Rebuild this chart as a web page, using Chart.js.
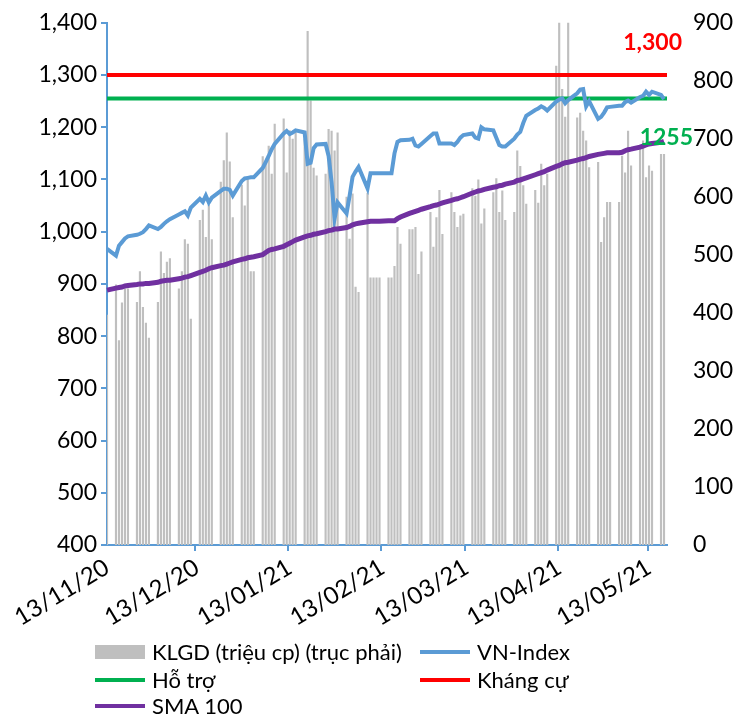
<!DOCTYPE html>
<html><head><meta charset="utf-8">
<script src="https://cdn.jsdelivr.net/npm/chart.js@4"></script>
<style>
html,body{margin:0;padding:0;background:#fff;}
#wrap{position:relative;width:745px;height:715px;overflow:hidden;}
#c{position:absolute;left:0;top:-9px;}
.lgt{position:absolute;font-family:Lato,sans-serif;font-size:22px;line-height:24px;color:#000;white-space:nowrap;}
.sw{position:absolute;}
</style></head><body>
<div id="wrap"><canvas id="c" width="745" height="724"></canvas><div id="legend"></div></div>
<script>
// ---- axis range (calendar days on the date axis) ----
const startDate = '2020-11-13';
const endDate = '2021-05-19';
const lastDataDate = '2021-05-18';

// ---- series, one value per weekday from 13/11/20 to 18/05/21 ----
const vnIndex = [
  967, 954, 973, 980, 987, 991, 994, 996, 999, 1005, 1012, 1005,
  1009, 1015, 1020, 1024, 1033, 1036, 1039, 1031, 1046, 1063, 1057, 1069, 1056, 1065, 1078, 1082, 1082, 1080, 1069, 1097, 1102, 1103, 1104,
  1104, 1122, 1133, 1145, 1158, 1168, 1188, 1193, 1187, 1190, 1194, 1190, 1130, 1132, 1160, 1167, 1168, 1145, 1095, 1025, 1056,
  1035, 1068, 1105, 1115, 1124, 1083, 1112, 1112, 1112, 1112, 1112, 1112, 1150, 1172, 1175, 1176, 1178, 1165, 1163, 1168,
  1183, 1188, 1188, 1169, 1169, 1169, 1166, 1172, 1180, 1185, 1188, 1180, 1178, 1200, 1196, 1194, 1180, 1166, 1163, 1163, 1178, 1186, 1191,
  1208, 1222, 1233, 1236, 1240, 1237, 1232, 1249, 1253, 1255, 1246, 1252, 1265, 1272, 1273, 1240, 1250, 1216, 1220, 1228, 1238, 1239,
  1241, 1241, 1248, 1251, 1247, 1258, 1260, 1268, 1262, 1268, 1262, 1254
];
const volume = [
  397, 449, 353, 418, 442, 442, 419, 472, 410, 383, 357, 419,
  506, 469, 488, 494, 442, 472, 527, 519, 390, 560, 578, 531, 586, 527, 626, 663, 711, 661, 565, 621, 585, 631, 472,
  472, 670, 661, 688, 640, 726, 735, 642, 715, 700, 717, 700, 886, 766, 650, 637, 640, 717, 714, 680, 711,
  600, 528, 606, 445, 436, 607, 461, 461, 461, 461, 461, 461, 481, 548, 519, 544, 544, 548, 467, 506,
  574, 514, 565, 612, 536, 608, 574, 548, 568, 571, 615, 602, 630, 554, 580, 608, 632, 574, 611, 560, 574, 680, 653,
  620, 588, 612, 590, 657, 620, 640, 826, 980, 786, 738, 960, 737, 745, 714, 697, 651, 660, 522, 565, 591, 591,
  591, 671, 642, 714, 654, 690, 697, 634, 654, 645, 674, 674
];
const sma100 = [
  888, 892, 893, 894, 896, 897, 899, 900, 900, 901, 901, 903,
  905, 906, 907, 907, 910, 911, 913, 914, 916, 922, 924, 926, 929, 931, 935, 936, 938, 940, 942, 947, 948, 950, 951,
  952, 956, 960, 964, 966, 967, 972, 975, 978, 981, 984, 990, 992, 993, 995, 996, 1000, 1002, 1003, 1005, 1005,
  1008, 1010, 1013, 1015, 1016, 1019, 1020, 1020, 1020, 1020, 1021, 1021, 1021, 1025, 1028, 1035, 1037, 1039, 1041, 1043,
  1048, 1050, 1051, 1053, 1055, 1060, 1062, 1063, 1065, 1067, 1074, 1076, 1078, 1079, 1081, 1085, 1086, 1088, 1089, 1091, 1095, 1098, 1099,
  1101, 1103, 1109, 1111, 1113, 1115, 1118, 1125, 1127, 1130, 1132, 1133, 1137, 1139, 1140, 1142, 1144, 1148, 1149, 1150, 1151, 1151,
  1151, 1152, 1155, 1157, 1158, 1162, 1164, 1166, 1168, 1169, 1171, 1173
];
const supportLevel = 1255;
const resistanceLevel = 1300;

// ---- axes ----
const leftAxis = { min: 400, max: 1400, step: 100 };
const rightAxis = { min: 0, max: 900, step: 100 };
const tickDayOfMonth = '13';

// ---- names / colours ----
const seriesNames = ['KLGD (triệu cp) (trục phải)', 'VN-Index', 'Hỗ trợ', 'Kháng cự', 'SMA 100'];
const seriesColors = ['#BFBFBF', '#5B9BD5', '#00B050', '#FF0000', '#7030A0'];

// ---- build calendar table ----
const pad = n => String(n).padStart(2, '0');
const days = [];
for (let d = new Date(startDate + 'T00:00:00Z'); d <= new Date(endDate + 'T00:00:00Z'); d.setUTCDate(d.getUTCDate() + 1)) days.push(new Date(d));
const labels = days.map(d => pad(d.getUTCDate()) + '/' + pad(d.getUTCMonth() + 1) + '/' + String(d.getUTCFullYear()).slice(2));
const lastData = new Date(lastDataDate + 'T00:00:00Z');
const idxVn = [], idxVol = [], idxSma = [];
let k = 0;
days.forEach(d => {
  const wd = d.getUTCDay();
  if (wd > 0 && wd < 6 && d <= lastData) {
    idxVn.push(vnIndex[k]); idxVol.push(volume[k]); idxSma.push(sma100[k]); k++;
  } else { idxVn.push(null); idxVol.push(null); idxSma.push(null); }
});
const supportData = labels.map(() => supportLevel);
const resistData = labels.map(() => resistanceLevel);
const isTickDay = i => labels[i] && labels[i].slice(0, 2) === tickDayOfMonth;

const levelLabels = {
  id: 'levelLabels',
  afterDatasetsDraw(chart) {
    const { ctx, chartArea, scales } = chart;
    ctx.save();
    ctx.font = 'bold 23px Lato';
    ctx.textAlign = 'right';
    ctx.textBaseline = 'middle';
    ctx.fillStyle = seriesColors[3];
    ctx.fillText(resistanceLevel.toLocaleString('en-US'), chartArea.right + 15, scales.y.getPixelForValue(resistanceLevel) - 32);
    ctx.fillStyle = seriesColors[2];
    ctx.fillText(String(supportLevel), chartArea.right + 26, scales.y.getPixelForValue(sma100[sma100.length - 1]) - 4);
    ctx.restore();
  }
};

const axisBlue = '#5B9BD5';
const tickFont = { family: 'Lato', size: 23 };

new Chart(document.getElementById('c'), {
  data: {
    labels,
    datasets: [
      { type: 'bar', label: seriesNames[0], data: idxVol, yAxisID: 'y2', backgroundColor: seriesColors[0], barPercentage: 0.72, categoryPercentage: 1, order: 5 },
      { type: 'line', label: seriesNames[1], data: idxVn, yAxisID: 'y', borderColor: seriesColors[1], borderWidth: 4, pointRadius: 0, spanGaps: true, tension: 0, order: 2 },
      { type: 'line', label: seriesNames[2], data: supportData, yAxisID: 'y', borderColor: seriesColors[2], borderWidth: 4, pointRadius: 0, order: 3 },
      { type: 'line', label: seriesNames[3], data: resistData, yAxisID: 'y', borderColor: seriesColors[3], borderWidth: 4, pointRadius: 0, order: 3 },
      { type: 'line', label: seriesNames[4], data: idxSma, yAxisID: 'y', borderColor: seriesColors[4], borderWidth: 5, pointRadius: 0, spanGaps: true, tension: 0, order: 1 }
    ]
  },
  options: {
    responsive: false,
    animation: false,
    devicePixelRatio: 1,
    layout: { padding: { top: 6, left: 0, right: 0, bottom: 0 } },
    plugins: { legend: { display: false }, tooltip: { enabled: false } },
    scales: {
      x: {
        type: 'category',
        offset: false,
        grid: { display: true, drawOnChartArea: false, drawTicks: true, tickLength: 6, lineWidth: 2,
          color: ctx => isTickDay(ctx.index) ? axisBlue : 'rgba(0,0,0,0)' },
        border: { display: true, color: axisBlue, width: 2 },
        ticks: { autoSkip: false, minRotation: 31, maxRotation: 31, padding: 2, color: '#000', font: { family: 'Lato', size: 24 },
          callback: (v, i) => isTickDay(i) ? labels[i] : '' },
        afterFit: s => { s.height = 170; }
      },
      y: {
        position: 'left', min: leftAxis.min, max: leftAxis.max,
        grid: { display: true, drawOnChartArea: false, drawTicks: true, tickLength: 6, lineWidth: 2, color: axisBlue },
        border: { display: true, color: axisBlue, width: 2 },
        ticks: { stepSize: leftAxis.step, padding: 4, color: '#000', font: tickFont, callback: v => v.toLocaleString('en-US') },
        afterFit: s => { s.width = 107; }
      },
      y2: {
        position: 'right', min: rightAxis.min, max: rightAxis.max,
        grid: { display: false },
        border: { display: false },
        ticks: { stepSize: rightAxis.step, padding: 18, color: '#000', font: tickFont },
        afterFit: s => { s.width = 78; }
      }
    }
  },
  plugins: [levelLabels]
});

// ---- legend (two columns, as in the reference) ----
const legendSlots = [[95, 652], [420, 652], [95, 680], [420, 680], [95, 706]];
const lg = document.getElementById('legend');
seriesNames.forEach((name, i) => {
  const [x, cy] = legendSlots[i];
  const sw = document.createElement('div');
  sw.className = 'sw';
  const h = i === 0 ? 14 : 4;
  sw.style.cssText = `left:${x}px;top:${cy - h / 2}px;width:50px;height:${h}px;background:${seriesColors[i]};`;
  lg.appendChild(sw);
  const t = document.createElement('div');
  t.className = 'lgt';
  t.style.left = (x + 57) + 'px';
  t.style.top = (cy - 12) + 'px';
  t.textContent = name;
  lg.appendChild(t);
});
</script>
</body></html>
